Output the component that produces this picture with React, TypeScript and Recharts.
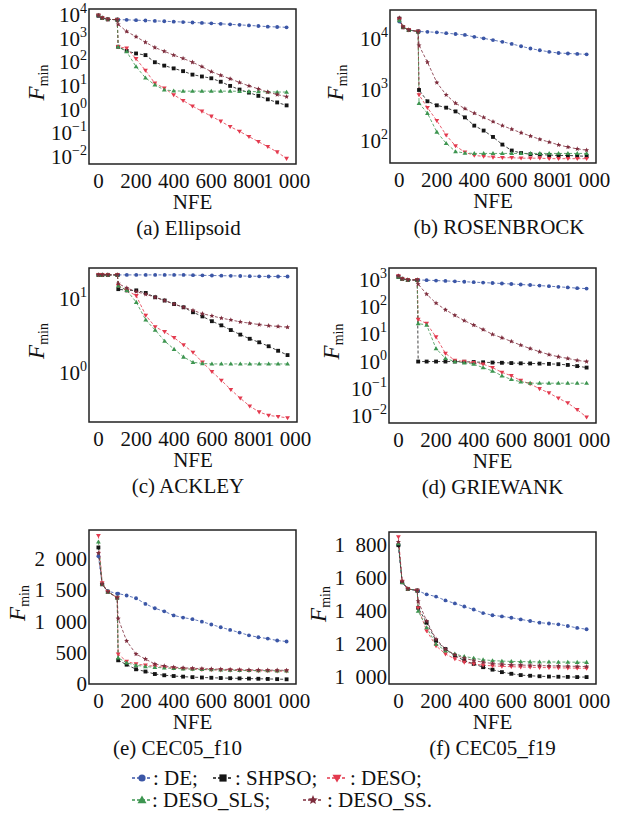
import React from "react";
import { LineChart, Line, XAxis, YAxis, ReferenceArea } from "recharts";

const FONT = "Liberation Serif, serif";

// shared NFE grid
const NFE = [0, 20, 50, 100, 105, 150, 200, 250, 300, 350, 400, 450, 500, 550, 600, 650, 700, 750, 800, 850, 900, 950, 1000];
const X_TICKS = [0, 200, 400, 600, 800, 1000];

// (a) Ellipsoid
const ELL_DE = [9000, 7500, 6500, 6300, 6300, 6200, 6000, 5800, 5600, 5400, 5200, 5000, 4800, 4600, 4400, 4200, 4000, 3800, 3600, 3400, 3200, 3100, 3000];
const ELL_SHPSO = [9500, 7500, 6500, 6300, 450, 300, 235, 200, 100, 72, 55, 42, 30, 25, 21, 15, 10, 7, 5.2, 3.8, 2.7, 2, 1.5];
const ELL_DESO = [9500, 7500, 6500, 6300, 450, 390, 140, 45, 13, 8, 4.2, 2.4, 1.4, 0.85, 0.52, 0.32, 0.19, 0.12, 0.072, 0.044, 0.027, 0.016, 0.0085];
const ELL_SLS = [9500, 7500, 6500, 6300, 450, 280, 65, 22, 11, 6.8, 6.2, 6, 6, 6, 6, 6, 6, 5.9, 5.8, 5.7, 5.6, 5.5, 5.5];
const ELL_SS = [9500, 7500, 6500, 6300, 4000, 2000, 1200, 700, 420, 290, 200, 145, 100, 65, 40, 28, 20, 14, 10, 7.5, 5.5, 4.3, 3.5];

// (b) ROSENBROCK
const ROS_DE = [22000, 17000, 15000, 14000, 14000, 13800, 13500, 13000, 12500, 12000, 11000, 10300, 9500, 8800, 8000, 7200, 6500, 6000, 5600, 5300, 5200, 5100, 5000];
const ROS_SHPSO = [25000, 17000, 15000, 14000, 1000, 600, 500, 450, 380, 290, 200, 160, 120, 85, 65, 58, 55, 54, 53, 52, 52, 51, 50];
const ROS_DESO = [24000, 17000, 15000, 14000, 800, 450, 250, 130, 80, 60, 52, 50, 48, 47, 47, 46, 46, 46, 45, 45, 45, 45, 45];
const ROS_SLS = [23000, 17000, 15000, 14000, 550, 350, 150, 90, 62, 58, 57, 57, 57, 57, 57, 57, 57, 57, 57, 57, 57, 57, 57];
const ROS_SS = [26000, 17000, 15000, 14000, 7500, 3500, 1400, 800, 550, 430, 350, 290, 240, 200, 170, 145, 125, 108, 95, 84, 76, 70, 66];

// (c) ACKLEY
const ACK_DE = [21, 21, 21, 21, 21, 21, 21, 21, 21, 21, 21, 21, 20.8, 20.7, 20.6, 20.5, 20.4, 20.3, 20.2, 20.1, 20, 20, 20];
const ACK_SHPSO = [21, 21, 21, 21, 13.5, 13, 13, 12, 10.5, 9.5, 8.5, 7.7, 6.6, 5.8, 5, 4.4, 3.8, 3.3, 2.9, 2.6, 2.3, 2, 1.75];
const ACK_DESO = [21, 21, 21, 21, 15, 13, 11, 6, 4.2, 3.6, 3, 2.4, 1.9, 1.4, 1.05, 0.8, 0.6, 0.46, 0.36, 0.3, 0.27, 0.26, 0.25];
const ACK_SLS = [21, 21, 21, 21, 15, 13, 9, 5.2, 3.8, 2.7, 2.1, 1.65, 1.4, 1.35, 1.33, 1.33, 1.33, 1.33, 1.33, 1.33, 1.33, 1.33, 1.33];
const ACK_SS = [21, 21, 21, 21, 16, 14, 12.5, 11.5, 10.5, 9.5, 8.5, 7.7, 7, 6.3, 5.9, 5.5, 5.2, 4.9, 4.7, 4.5, 4.35, 4.25, 4.15];

// (d) GRIEWANK
const GRI_DE = [1400, 1100, 1000, 1000, 1000, 980, 950, 920, 890, 860, 830, 800, 770, 740, 710, 680, 650, 620, 590, 560, 530, 500, 480];
const GRI_SHPSO = [1300, 1100, 1000, 1000, 1.0, 1.0, 1.0, 1.0, 1.0, 0.98, 0.96, 0.94, 0.92, 0.9, 0.88, 0.86, 0.85, 0.84, 0.82, 0.8, 0.75, 0.68, 0.6];
const GRI_DESO = [1400, 1100, 1000, 1000, 35, 25, 8, 2, 1.1, 1.0, 0.9, 0.8, 0.6, 0.4, 0.3, 0.2, 0.15, 0.1, 0.07, 0.045, 0.03, 0.017, 0.009];
const GRI_SLS = [1300, 1100, 1000, 1000, 25, 22, 3, 1.3, 1.0, 0.9, 0.8, 0.6, 0.45, 0.3, 0.22, 0.18, 0.16, 0.16, 0.16, 0.16, 0.16, 0.16, 0.16];
const GRI_SS = [1400, 1100, 1000, 1000, 700, 300, 140, 80, 50, 32, 22, 15, 10, 7.5, 5.5, 4, 3, 2.3, 1.8, 1.5, 1.3, 1.1, 1.0];

// (e) CEC05_f10
const F10_DE = [2050, 1600, 1490, 1450, 1450, 1420, 1375, 1285, 1215, 1165, 1100, 1065, 1040, 1000, 955, 910, 868, 825, 780, 750, 728, 697, 682];
const F10_SHPSO = [2190, 1600, 1480, 1385, 380, 310, 236, 200, 160, 140, 128, 118, 110, 104, 100, 96, 93, 90, 87, 84, 81, 78, 75];
const F10_DESO = [2380, 1620, 1480, 1385, 480, 360, 320, 300, 285, 270, 255, 245, 238, 232, 228, 224, 220, 217, 214, 211, 209, 207, 205];
const F10_SLS = [2280, 1600, 1480, 1385, 420, 340, 300, 280, 268, 258, 250, 244, 238, 234, 230, 226, 223, 220, 218, 216, 214, 213, 212];
const F10_SS = [2100, 1600, 1480, 1385, 1050, 690, 480, 400, 320, 290, 270, 260, 252, 246, 241, 237, 233, 230, 227, 225, 223, 221, 220];

// (f) CEC05_f19
const F19_DE = [1800, 1575, 1535, 1525, 1522, 1502, 1488, 1465, 1447, 1428, 1410, 1388, 1375, 1368, 1360, 1350, 1340, 1330, 1325, 1320, 1310, 1298, 1290];
const F19_SHPSO = [1800, 1575, 1535, 1525, 1420, 1330, 1220, 1170, 1130, 1100, 1080, 1060, 1045, 1030, 1020, 1012, 1008, 1005, 1003, 1002, 1001, 1000, 1000];
const F19_DESO = [1850, 1580, 1535, 1525, 1420, 1280, 1190, 1140, 1110, 1090, 1080, 1072, 1068, 1065, 1063, 1061, 1060, 1058, 1057, 1056, 1055, 1054, 1053];
const F19_SLS = [1810, 1575, 1535, 1525, 1400, 1300, 1200, 1160, 1140, 1125, 1115, 1105, 1100, 1097, 1095, 1094, 1093, 1092, 1092, 1091, 1091, 1090, 1090];
const F19_SS = [1820, 1580, 1535, 1525, 1460, 1340, 1230, 1170, 1135, 1115, 1100, 1090, 1082, 1078, 1075, 1073, 1071, 1070, 1068, 1067, 1066, 1065, 1064];

const SERIES = [
  { key: "DE", color: "#3b56a6", shape: "circle" },
  { key: "SHPSO", color: "#151515", shape: "square" },
  { key: "DESO", color: "#e33a4e", shape: "down" },
  { key: "DESO_SLS", color: "#3d9550", shape: "up" },
  { key: "DESO_SS", color: "#7d2c3c", shape: "star" },
];

function starPoints(cx: number, cy: number, r: number) {
  const pts: string[] = [];
  for (let i = 0; i < 10; i++) {
    const rr = i % 2 === 0 ? r : r * 0.45;
    const a = -Math.PI / 2 + (i * Math.PI) / 5;
    pts.push(`${cx + rr * Math.cos(a)},${cy + rr * Math.sin(a)}`);
  }
  return pts.join(" ");
}

function Marker({ shape, cx, cy, color, r }: { shape: string; cx: number; cy: number; color: string; r: number }) {
  if (cx == null || cy == null || isNaN(cx) || isNaN(cy)) return null;
  if (shape === "circle") return <circle cx={cx} cy={cy} r={r * 0.8} fill={color} />;
  if (shape === "square") return <rect x={cx - r * 0.8} y={cy - r * 0.8} width={r * 1.6} height={r * 1.6} fill={color} />;
  if (shape === "down")
    return <polygon points={`${cx - r},${cy - r * 0.7} ${cx + r},${cy - r * 0.7} ${cx},${cy + r}`} fill={color} />;
  if (shape === "up")
    return <polygon points={`${cx - r},${cy + r * 0.7} ${cx + r},${cy + r * 0.7} ${cx},${cy - r}`} fill={color} />;
  return <polygon points={starPoints(cx, cy, r * 1.1)} fill={color} />;
}

function LogTick(props: any) {
  const { x, y, payload } = props;
  const e = Math.round(Math.log10(payload.value));
  const exp = e < 0 ? `\u2212${-e}` : `${e}`;
  return (
    <text x={x} y={y} dy={7} textAnchor="end" fontFamily={FONT} fontSize={21} fill="#111">
      <tspan>10</tspan>
      <tspan dy={-9} fontSize={14}>
        {exp}
      </tspan>
    </text>
  );
}

function LinTick(props: any) {
  const { x, y, payload } = props;
  const v = payload.value as number;
  const s = v >= 1000 ? `${Math.floor(v / 1000)}\u2002${String(v % 1000).padStart(3, "0")}` : `${v}`;
  return (
    <text x={x} y={y} dy={7} textAnchor="end" fontFamily={FONT} fontSize={21} fill="#111">
      {s}
    </text>
  );
}

const fmtX = (v: number) => (v === 1000 ? "1 000" : `${v}`);

type PanelCfg = {
  left: number;
  frameTop: number;
  frameRight: number;
  frameH: number;
  yW: number;
  log: boolean;
  domain: [number, number];
  ticks: number[];
  series: number[][];
  caption: string;
  capDx: number;
  labelX: number;
};

const PANELS: PanelCfg[] = [
  { left: 0, frameTop: 9, frameRight: 296, frameH: 155, yW: 89, log: true, domain: [0.005, 17800], ticks: [0.01, 0.1, 1, 10, 100, 1000, 10000], series: [ELL_DE, ELL_SHPSO, ELL_DESO, ELL_SLS, ELL_SS], caption: "(a) Ellipsoid", capDx: -4, labelX: 37 },
  { left: 311, frameTop: 10, frameRight: 596, frameH: 153, yW: 79, log: true, domain: [37, 37000], ticks: [100, 1000, 10000], series: [ROS_DE, ROS_SHPSO, ROS_DESO, ROS_SLS, ROS_SS], caption: "(b) ROSENBROCK", capDx: 6, labelX: 25 },
  { left: 0, frameTop: 268, frameRight: 297, frameH: 154, yW: 89, log: true, domain: [0.22, 26], ticks: [1, 10], series: [ACK_DE, ACK_SHPSO, ACK_DESO, ACK_SLS, ACK_SS], caption: "(c) ACKLEY", capDx: -5, labelX: 37 },
  { left: 311, frameTop: 268, frameRight: 596, frameH: 155, yW: 78, log: true, domain: [0.0055, 2750], ticks: [0.01, 0.1, 1, 10, 100, 1000], series: [GRI_DE, GRI_SHPSO, GRI_DESO, GRI_SLS, GRI_SS], caption: "(d) GRIEWANK", capDx: 0, labelX: 21 },
  { left: 0, frameTop: 530, frameRight: 296, frameH: 154, yW: 89, log: false, domain: [0, 2470], ticks: [0, 500, 1000, 1500, 2000], series: [F10_DE, F10_SHPSO, F10_DESO, F10_SLS, F10_SS], caption: "(e) CEC05_f10", capDx: -15, labelX: 18 },
  { left: 311, frameTop: 532, frameRight: 596, frameH: 152, yW: 78, log: false, domain: [958, 1880], ticks: [1000, 1200, 1400, 1600, 1800], series: [F19_DE, F19_SHPSO, F19_DESO, F19_SLS, F19_SS], caption: "(f) CEC05_f19", capDx: 0, labelX: 8 },
];

const X_DOMAIN: [number, number] = [-50, 1050];
const M_TOP = 14;
const M_RIGHT = 24;
const X_H = 80;

function Panel({ p }: { p: PanelCfg }) {
  const data = NFE.map((x, i) => {
    const row: Record<string, number> = { nfe: x };
    SERIES.forEach((s, k) => {
      row[s.key] = p.series[k][i];
    });
    return row;
  });
  const height = p.frameH + M_TOP + X_H;
  const width = p.frameRight - p.left + M_RIGHT;
  return (
    <LineChart
      width={width}
      height={height}
      data={data}
      margin={{ top: M_TOP, right: M_RIGHT, bottom: 0, left: 0 }}
      style={{ position: "absolute", left: p.left, top: p.frameTop - M_TOP }}
    >
      <XAxis
        dataKey="nfe"
        type="number"
        domain={X_DOMAIN}
        ticks={X_TICKS}
        tickFormatter={fmtX}
        interval={0}
        height={X_H}
        axisLine={false}
        tickLine={false}
        tickSize={6}
        tickMargin={3}
        tick={{ fontSize: 21, fill: "#111", fontFamily: FONT }}
        allowDataOverflow
        label={{
          content: (lp: any) => {
            const vb = lp.viewBox || {};
            const cx = vb.x + vb.width / 2;
            return (
              <g fontFamily={FONT} fill="#111">
                <text x={cx} y={vb.y + 45} textAnchor="middle" fontSize={21}>
                  NFE
                </text>
                <text x={cx + p.capDx} y={vb.y + 71} textAnchor="middle" fontSize={21}>
                  {p.caption}
                </text>
              </g>
            );
          },
        }}
      />
      <YAxis
        type="number"
        scale={p.log ? "log" : "linear"}
        domain={p.domain}
        ticks={p.ticks}
        interval={0}
        allowDataOverflow
        width={p.yW}
        axisLine={false}
        tickLine={false}
        tickSize={2}
        tickMargin={0}
        tick={p.log ? <LogTick /> : <LinTick />}
        label={{
          content: (lp: any) => {
            const vb = lp.viewBox || {};
            const x = p.labelX + 7;
            const cy = vb.y + vb.height / 2 - 4;
            return (
              <text
                x={x}
                y={cy}
                transform={`rotate(-90, ${x}, ${cy})`}
                textAnchor="middle"
                fontFamily={FONT}
                fill="#111"
              >
                <tspan fontStyle="italic" fontSize={23}>
                  F
                </tspan>
                <tspan fontSize={14} dy={4}>
                  min
                </tspan>
              </text>
            );
          },
        }}
      />
      {SERIES.map((s) => (
        <Line
          key={s.key}
          dataKey={s.key}
          type="linear"
          stroke={s.color}
          strokeWidth={1}
          strokeDasharray="3 2"
          strokeOpacity={0.8}
          isAnimationActive={false}
          dot={(dp: any) => (
            <Marker key={`${s.key}-${dp.index}`} shape={s.shape} cx={dp.cx} cy={dp.cy} color={s.color} r={2.4} />
          )}
          activeDot={false}
        />
      ))}
      <ReferenceArea
        x1={X_DOMAIN[0]}
        x2={X_DOMAIN[1]}
        y1={p.domain[0]}
        y2={p.domain[1]}
        fill="none"
        stroke="#222"
        strokeWidth={1.5}
        ifOverflow="visible"
      />
    </LineChart>
  );
}

function LegendIcon({ shape, color }: { shape: string; color: string }) {
  return (
    <svg width={20} height={14} style={{ display: "block" }}>
      <line x1={0} x2={20} y1={7} y2={7} stroke={color} strokeWidth={1.5} strokeDasharray="3 2" />
      <Marker shape={shape} cx={10} cy={7} color={color} r={4.5} />
    </svg>
  );
}

const LEGEND_POS = [
  { icon: 132, text: 153, y: 778, label: ": DE;" },
  { icon: 213, text: 235, y: 778, label: ": SHPSO;" },
  { icon: 327, text: 350, y: 778, label: ": DESO;" },
  { icon: 132, text: 152, y: 800, label: ": DESO_SLS;" },
  { icon: 303, text: 327, y: 800, label: ": DESO_SS." },
];

export default function App() {
  return (
    <div style={{ position: "absolute", left: 0, top: 0, width: 623, height: 816, background: "#fff", fontFamily: FONT }}>
      <style>{`.recharts-surface { overflow: visible; }`}</style>
      {PANELS.map((p, i) => (
        <Panel key={i} p={p} />
      ))}
      {SERIES.map((s, i) => {
        const pos = LEGEND_POS[i];
        return (
          <React.Fragment key={s.key}>
            <div style={{ position: "absolute", left: pos.icon, top: pos.y - 7 }}>
              <LegendIcon shape={s.shape} color={s.color} />
            </div>
            <div
              style={{
                position: "absolute",
                left: pos.text,
                top: pos.y - 12,
                fontSize: 21,
                lineHeight: "24px",
                color: "#111",
                whiteSpace: "nowrap",
              }}
            >
              {pos.label}
            </div>
          </React.Fragment>
        );
      })}
    </div>
  );
}
